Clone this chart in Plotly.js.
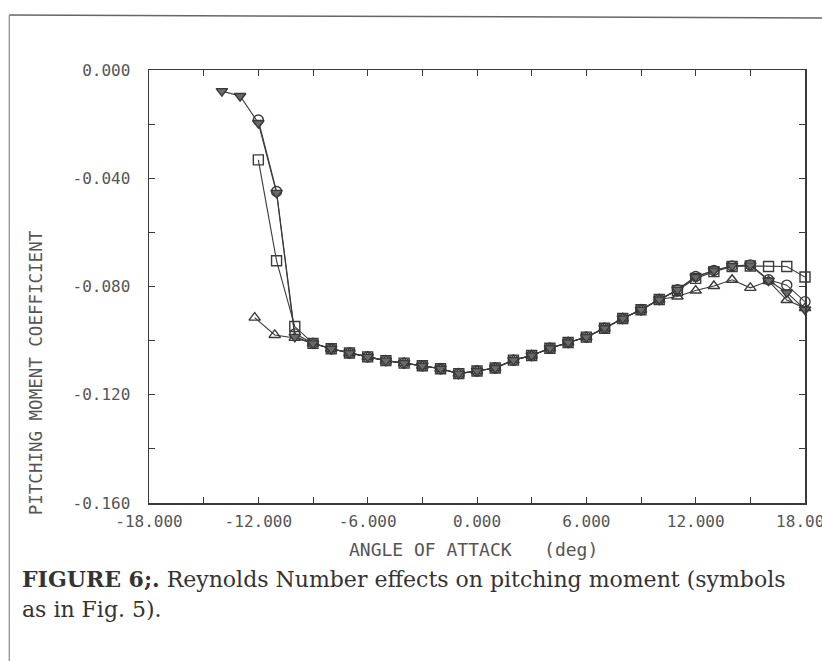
<!DOCTYPE html>
<html>
<head>
<meta charset="utf-8">
<script src="https://cdn.plot.ly/plotly-3.0.1.min.js"></script>
<style>
html,body{margin:0;padding:0;background:#fff;}
#chart{width:822px;height:661px;}
</style>
</head>
<body>
<div id="chart"></div>
<script>
// ---- data ----
const midAngles = [-9,-8,-7,-6,-5,-4,-3,-2,-1,0,1,2,3,4,5,6,7,8,9,10];
const midCm = [-0.1010,-0.1030,-0.1046,-0.1060,-0.1074,-0.1083,-0.1093,-0.1104,-0.1122,-0.1112,-0.1101,-0.1072,-0.1055,-0.1028,-0.1007,-0.0987,-0.0954,-0.0918,-0.0886,-0.0848];
const highAngles = [11,12,13,14,15,16,17,18];

const triDownLowAngles = [-14,-13,-12,-11,-10];
const triDownLowCm = [-0.0078,-0.0096,-0.0196,-0.0454,-0.0986];
const triDownHighCm = [-0.0812,-0.0765,-0.0741,-0.0724,-0.0722,-0.0778,-0.0822,-0.0885];

const circleLowAngles = [-12,-11,-10];
const circleLowCm = [-0.0185,-0.0449,-0.0975];
const circleHighCm = [-0.0812,-0.0763,-0.0741,-0.0724,-0.0720,-0.0775,-0.0795,-0.0856];

const squareLowAngles = [-12,-11,-10];
const squareLowCm = [-0.0332,-0.0705,-0.0948];
const squareHighCm = [-0.0815,-0.0770,-0.0745,-0.0726,-0.0724,-0.0726,-0.0726,-0.0765];

const triUpLowAngles = [-12.2,-11.1,-10];
const triUpLowCm = [-0.0915,-0.0979,-0.0990];
const triUpHighCm = [-0.0837,-0.0815,-0.0798,-0.0775,-0.0805,-0.0780,-0.0850,-0.0880];

const xTickVals = [-18,-15,-12,-9,-6,-3,0,3,6,9,12,15,18];
const xTickText = ['-18.000','','-12.000','','-6.000','','0.000','','6.000','','12.000','','18.000'];
const yTickVals = [0,-0.02,-0.04,-0.06,-0.08,-0.10,-0.12,-0.14,-0.16];
const yTickText = ['0.000','','-0.040','','-0.080','','-0.120','','-0.160'];

const xTitle = 'ANGLE OF ATTACK&nbsp;&nbsp;&nbsp;(deg)';
const yTitle = 'PITCHING MOMENT COEFFICIENT';
const caption1 = '<b>FIGURE 6;.</b> Reynolds Number effects on pitching moment (symbols';
const caption2 = 'as in Fig. 5).';

// ---- build ----
const ink = '#3a3a3a';
function series(lowX, lowY, highY, symbol, fill) {
  return {
    x: lowX.concat(midAngles, highAngles),
    y: lowY.concat(midCm, highY),
    mode: 'lines+markers',
    type: 'scatter',
    cliponaxis: false,
    line: {color: ink, width: 1.1},
    marker: {symbol: symbol, size: 10, color: fill, line: {color: ink, width: 1.4}},
    showlegend: false
  };
}
const traces = [
  series(squareLowAngles, squareLowCm, squareHighCm, 'square-open', ink),
  series(triUpLowAngles, triUpLowCm, triUpHighCm, 'triangle-up-open', ink),
  series(circleLowAngles, circleLowCm, circleHighCm, 'circle-open', ink),
  series(triDownLowAngles, triDownLowCm, triDownHighCm, 'triangle-down', '#6a6a6a')
];

const tickFont = {family: 'DejaVu Sans Mono, monospace', size: 16, color: '#555'};
const layout = {
  width: 822, height: 661,
  paper_bgcolor: '#fff', plot_bgcolor: '#fff',
  margin: {l: 149, r: 17, t: 70, b: 158},
  xaxis: {
    range: [-18, 18], tickmode: 'array', tickvals: xTickVals, ticktext: xTickText,
    ticks: 'inside', ticklen: 6, tickcolor: ink, tickwidth: 1,
    showline: true, linecolor: ink, linewidth: 1.5, mirror: 'ticks',
    showgrid: false, zeroline: false, tickfont: tickFont,
    ticklabeloverflow: 'allow', ticklabelstandoff: 3
  },
  yaxis: {
    range: [-0.16, 0], tickmode: 'array', tickvals: yTickVals, ticktext: yTickText,
    ticks: 'inside', ticklen: 6, tickcolor: ink, tickwidth: 1,
    showline: true, linecolor: ink, linewidth: 1.5, mirror: 'ticks',
    showgrid: false, zeroline: false, tickfont: tickFont,
    ticklabelstandoff: 14
  },
  annotations: [
    {text: xTitle, xref: 'paper', yref: 'paper', x: 0.495, y: -0.108, xanchor: 'center', yanchor: 'middle',
     showarrow: false, font: {family: 'DejaVu Sans Mono, monospace', size: 18, color: '#555'}},
    {text: yTitle, xref: 'paper', yref: 'paper', x: -0.172, y: 0.30, xanchor: 'center', yanchor: 'middle',
     textangle: -90, showarrow: false, font: {family: 'DejaVu Sans Mono, monospace', size: 17.5, color: '#555'}},
    {text: caption1, xref: 'paper', yref: 'paper', x: -0.197, y: -0.176, xanchor: 'left', yanchor: 'middle',
     showarrow: false, font: {family: 'DejaVu Serif, serif', size: 22, color: '#333'}},
    {text: caption2, xref: 'paper', yref: 'paper', x: -0.197, y: -0.245, xanchor: 'left', yanchor: 'middle',
     showarrow: false, font: {family: 'DejaVu Serif, serif', size: 22, color: '#333'}}
  ],
  shapes: [
    {type: 'line', xref: 'paper', yref: 'paper', x0: -0.213, x1: 1.03, y0: 1.127, y1: 1.12, line: {color: '#666', width: 1.5}},
    {type: 'line', xref: 'paper', yref: 'paper', x0: -0.213, x1: -0.213, y0: 1.127, y1: -0.37, line: {color: '#888', width: 1.2}}
  ]
};
Plotly.newPlot('chart', traces, layout, {displayModeBar: false, staticPlot: true});
</script>
</body>
</html>
